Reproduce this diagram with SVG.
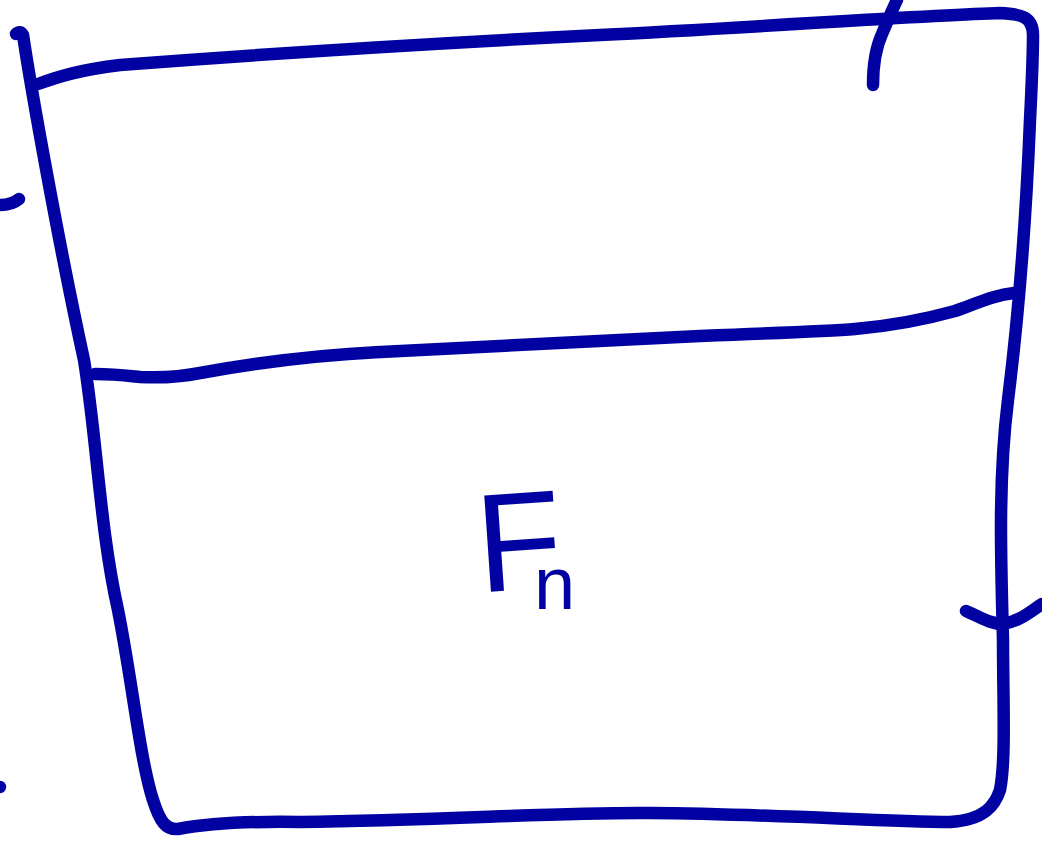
<svg xmlns="http://www.w3.org/2000/svg" width="1042" height="841" viewBox="0 0 1042 841">
<style>
.s{fill:none;stroke:#0202a2;stroke-width:12.5;stroke-linecap:round;stroke-linejoin:round}
.t{fill:#0202a2;font-family:"Liberation Sans",Arial,sans-serif}
</style>
<rect width="1042" height="841" fill="#fff"/>
<g id="box">
<path class="s" d="M16,34 Q20,30 23,35 C32,95 60,250 84,360 C97,440 100,530 118,610 C132,680 140,760 153,800 C160,822 166,830 178,829 C200,825 240,821 300,822 C450,820 560,812 650,813 C780,814 880,822 950,822 C985,820 995,805 1000,790 C1006,760 1003,700 1003,640 C1001,560 998,480 1008,400 C1018,320 1026,220 1030,120 C1032,80 1033,50 1033,35 C1033,16 1020,14 1000,13 C930,15 760,27 600,35 C420,44 250,55 120,65 C80,70 60,76 38,84"/>
</g>
<g id="divider">
<path class="s" d="M95,374 C115,374 130,376 140,377 C160,378 180,377 200,373 C260,362 320,355 380,352 C500,347 620,340 700,336 C780,333 830,331 855,329 C900,325 930,318 955,311 C980,302 995,295 1014,293"/>
</g>
<g id="marks">
<path class="s" d="M873,85 C873,60 877,45 882,34 C888,20 893,8 897,0"/>
<path class="s" d="M0,205 Q12,205 19,199"/>
<circle cx="0" cy="787" r="6.2" fill="#0202a2"/>
<path class="s" d="M966,611 C980,617 990,624 1003,624 C1020,621 1030,612 1042,604"/>
</g>
<g id="label">
<text class="t" x="476" y="591" font-size="140" transform="rotate(-4 500 540)">F</text>
<text class="t" x="534" y="609" font-size="74">n</text>
</g>
</svg>
